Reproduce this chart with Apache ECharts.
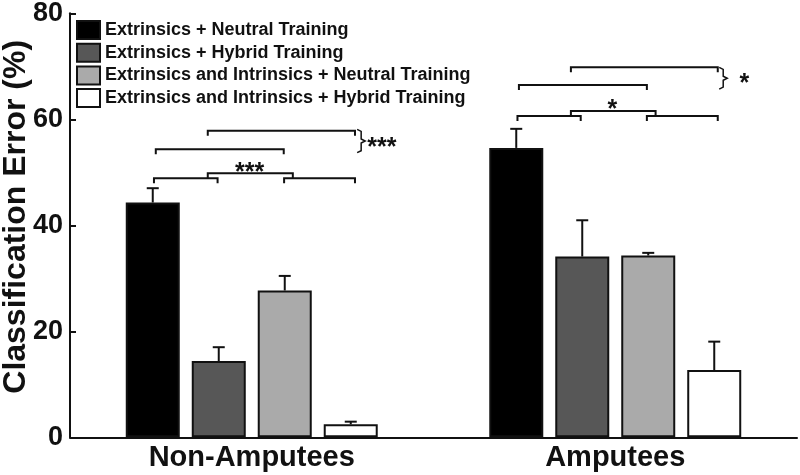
<!DOCTYPE html>
<html>
<head>
<meta charset="utf-8">
<script src="https://cdn.jsdelivr.net/npm/echarts@6/dist/echarts.min.js"></script>
<style>html,body{margin:0;padding:0;background:#fff;}#chart{width:800px;height:475px;}</style>
</head>
<body>
<div id="chart"></div>
<script>
// ---- data ----
const categories = ['Non-Amputees', 'Amputees'];
const seriesNames = [
  'Extrinsics + Neutral Training',
  'Extrinsics + Hybrid Training',
  'Extrinsics and Intrinsics + Neutral Training',
  'Extrinsics and Intrinsics + Hybrid Training'
];
const extNeutral = [44.3, 54.6];
const extHybrid = [14.4, 34.1];
const extIntNeutral = [27.7, 34.3];
const extIntHybrid = [2.45, 12.7];
const errExtNeutral = [2.7, 3.6];
const errExtHybrid = [2.6, 6.85];
const errExtIntNeutral = [2.75, 0.5];
const errExtIntHybrid = [0.5, 5.35];
// significance brackets: [xStart, xEnd, y] (x in category units, y in %)
const brackets = [
  [-0.269, -0.094, 48.87], [0.089, 0.284, 48.87], [-0.121, 0.113, 49.81],
  [-0.264, 0.088, 54.34], [-0.121, 0.284, 57.85],
  [0.731, 0.905, 60.62], [1.087, 1.282, 60.62], [0.878, 1.111, 61.57],
  [0.735, 1.087, 66.47], [0.878, 1.282, 69.81]
];
// braces: [x, yTop, yBottom]
const braces = [[0.301, 58.1, 53.7], [1.297, 69.8, 65.7]];
// star labels: [x, y]
const starPos = [[-0.006, 51.04], [0.318, 55.66], [0.992, 62.92], [1.355, 67.74]];
const starText = ['***', '***', '*', '*'];
const starAlign = ['center', 'left', 'center', 'center'];

const means = [extNeutral, extHybrid, extIntNeutral, extIntHybrid];
const errs = [errExtNeutral, errExtHybrid, errExtIntNeutral, errExtIntHybrid];
const colors = ['#000000', '#575757', '#aaaaaa', '#ffffff'];
const FONT = 'Liberation Sans, Arial, sans-serif';
const INK = '#111';

const errData = [];
for (let k = 0; k < 4; k++) for (let c = 0; c < categories.length; c++) errData.push([c, means[k][c], errs[k][c], k]);

const barSeries = seriesNames.map((n, k) => ({
  name: n, type: 'bar', data: means[k], barWidth: 54, barGap: '22.2%',
  itemStyle: { color: colors[k], borderColor: INK, borderWidth: 2 }, z: 2
}));

const chart = echarts.init(document.getElementById('chart'), null, { renderer: 'canvas' });
chart.setOption({
  animation: false,
  backgroundColor: '#fff',
  grid: { left: 70, right: 3, top: 13.3, bottom: 37.7, outerBoundsMode: 'none', containLabel: false },
  legend: {
    orient: 'vertical', left: 76, top: 20, padding: 0, icon: 'rect', itemWidth: 23, itemHeight: 18, itemGap: 2.7,
    data: seriesNames,
    textStyle: { fontFamily: FONT, fontWeight: 'bold', fontSize: 18, color: INK, lineHeight: 18 }
  },
  xAxis: [{
    type: 'category', data: categories,
    axisLine: { lineStyle: { color: INK, width: 2 } },
    axisTick: { inside: true, alignWithLabel: true, length: 6, lineStyle: { color: INK, width: 2 } },
    axisLabel: { fontFamily: FONT, fontWeight: 'bold', fontSize: 29, color: INK, margin: 6 }
  }, {
    type: 'value', min: -0.5, max: 1.5, show: false
  }],
  yAxis: {
    type: 'value', min: 0, max: 80, interval: 20,
    name: 'Classification Error (%)', nameLocation: 'middle', nameGap: 38, nameMoveOverlap: false,
    nameTextStyle: { fontFamily: FONT, fontWeight: 'bold', fontSize: 32, color: INK, padding: [0, 0, 0, 17] },
    axisLine: { show: true, onZero: false, lineStyle: { color: INK, width: 2 } },
    axisTick: { show: true, inside: true, length: 6, lineStyle: { color: INK, width: 2 } },
    splitLine: { show: false },
    axisLabel: { fontFamily: FONT, fontWeight: 'bold', fontSize: 27, color: INK, margin: 7 }
  },
  series: barSeries.concat([
    {
      type: 'custom', xAxisIndex: 0, yAxisIndex: 0, z: 3, data: errData,
      encode: { x: 0, y: 1 },
      renderItem: function (params, api) {
        const c = api.value(0), m = api.value(1), e = api.value(2), k = api.value(3);
        const p0 = api.coord([c, m]);
        const p1 = api.coord([c, m + e]);
        const x = p0[0] + (k - 1.5) * 66;
        const st = { stroke: INK, lineWidth: 2, fill: null };
        return { type: 'group', children: [
          { type: 'line', shape: { x1: x, y1: p0[1], x2: x, y2: p1[1] }, style: st },
          { type: 'line', shape: { x1: x - 6, y1: p1[1], x2: x + 6, y2: p1[1] }, style: st }
        ] };
      }
    },
    {
      type: 'custom', xAxisIndex: 1, yAxisIndex: 0, z: 3, data: brackets,
      encode: { x: [0, 1], y: 2 },
      renderItem: function (params, api) {
        const a = api.coord([api.value(0), api.value(2)]);
        const b = api.coord([api.value(1), api.value(2)]);
        return { type: 'polyline', shape: { points: [[a[0], a[1] + 5], a, b, [b[0], b[1] + 5]] },
          style: { stroke: INK, lineWidth: 2, fill: null } };
      }
    },
    {
      type: 'custom', xAxisIndex: 1, yAxisIndex: 0, z: 3, data: braces,
      encode: { x: 0, y: [1, 2] },
      renderItem: function (params, api) {
        const t = api.coord([api.value(0), api.value(1)]);
        const b = api.coord([api.value(0), api.value(2)]);
        const x = t[0], m = (t[1] + b[1]) / 2;
        return { type: 'polyline', shape: { points: [[x - 4, t[1]], [x, t[1] + 2], [x, m - 2], [x + 4, m], [x, m + 2], [x, b[1] - 2], [x - 4, b[1]]] },
          style: { stroke: INK, lineWidth: 1.5, fill: null } };
      }
    },
    {
      type: 'custom', xAxisIndex: 1, yAxisIndex: 0, z: 3, data: starPos,
      encode: { x: 0, y: 1 },
      renderItem: function (params, api) {
        const p = api.coord([api.value(0), api.value(1)]);
        return { type: 'text', x: p[0], y: p[1] + 6,
          style: { text: starText[params.dataIndex], fill: INK, font: 'bold 25px ' + FONT,
            align: starAlign[params.dataIndex], verticalAlign: 'middle' } };
      }
    }
  ])
});
</script>
</body>
</html>
